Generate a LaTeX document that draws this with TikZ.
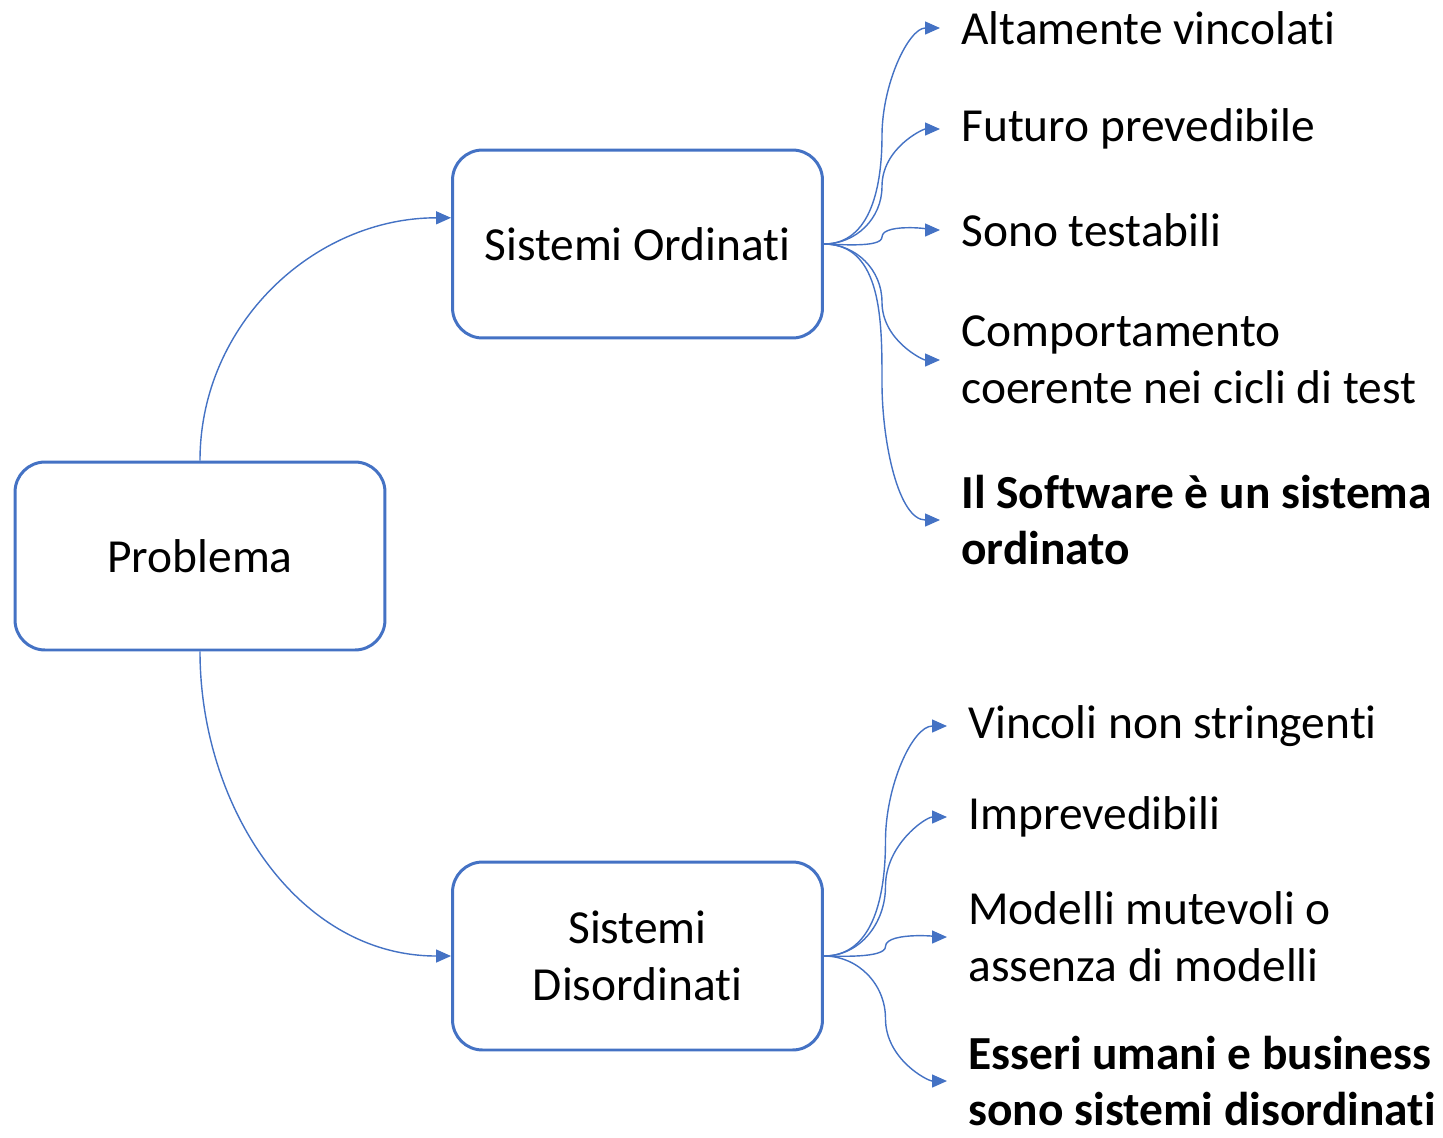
\documentclass[tikz,border=0pt]{standalone}
\usepackage{fontspec}
\setmainfont{Carlito}[Ligatures = {NoCommon, NoContextual, NoRare}, Contextuals = NoAlternate]
\usetikzlibrary{arrows.meta,calc}
\definecolor{officeblue}{HTML}{4472C4}

\begin{document}
\begin{tikzpicture}[ x = 0.02cm, y = -0.02cm, font = \fontsize{27}{32.4}\selectfont,
            sysbox/.style = { shape=rectangle, rounded corners = 0.6cm, draw = officeblue, line width = 1.7pt, minimum width = 7.4cm, minimum height = 3.76cm, align = center },
            itemtext/.style = { anchor = west, align = left, inner sep = 0pt },
            boldtext/.style = { font = \fontsize{27}{32.4}\selectfont\bfseries },
            fanline/.style = { draw = officeblue, line width = 0.8pt, shorten >= 0.42cm, -{Triangle[length = 0.3cm, width = 0.26cm]} } ]
            \useasboundingbox (0,0) rectangle (1443,1137);
            \node (nProblema) [ sysbox ] at (200,556) {Problema};
            \node (nOrdinati) [ sysbox ] at (637.5,244) {Sistemi Ordinati};
            \node (nDisordinati) [ sysbox ] at (637.5,956) {Sistemi\\Disordinati};
            \draw [ fanline, shorten >= 0pt ] (nProblema.north) to [ out = 90, in = 180 ] (nOrdinati.172);
            \draw [ fanline, shorten >= 0pt ] (nProblema.south) to [ out = -90, in = 180 ] (nDisordinati.west);
            \node (nAltamente) [ itemtext ] at (961,28) {Altamente vincolati};
            \node (nFuturo) [ itemtext ] at (961,129) {Futuro prevedibile};
            \node (nTestabili) [ itemtext ] at (961,230) {Sono testabili};
            \node (nComportamento) [ itemtext ] at (961,360) {Comportamento\\coerente nei cicli di test};
            \node (nSoftware) [ itemtext, boldtext ] at (961,520) {Il Software è un sistema\\ordinato};
            \draw [ fanline ] (nOrdinati.east) to [ out = 0, in = -90 ] ($(nOrdinati.east)!0.5!([xshift = -0.42cm]nAltamente.west)$) to [ out = 90, in = 180 ] (nAltamente.west);
            \draw [ fanline ] (nOrdinati.east) to [ out = 0, in = -90 ] ($(nOrdinati.east)!0.5!([xshift = -0.42cm]nFuturo.west)$) to [ out = 90, in = 180 ] (nFuturo.west);
            \draw [ fanline ] (nOrdinati.east) to [ out = 0, in = -90, looseness = 0.5 ] ($(nOrdinati.east)!0.5!([xshift = -0.42cm]nTestabili.west)$) to [ out = 90, in = 180, looseness = 0.5 ] (nTestabili.west);
            \draw [ fanline ] (nOrdinati.east) to [ out = 0, in = 90 ] ($(nOrdinati.east)!0.5!([xshift = -0.42cm]nComportamento.west)$) to [ out = -90, in = 180 ] (nComportamento.west);
            \draw [ fanline ] (nOrdinati.east) to [ out = 0, in = 90 ] ($(nOrdinati.east)!0.5!([xshift = -0.42cm]nSoftware.west)$) to [ out = -90, in = 180 ] (nSoftware.west);
            \node (nVincoli) [ itemtext ] at (968,726) {Vincoli non stringenti};
            \node (nImprevedibili) [ itemtext ] at (968,817) {Imprevedibili};
            \node (nModelli) [ itemtext ] at (968,937) {Modelli mutevoli o\\assenza di modelli};
            \node (nEsseri) [ itemtext, boldtext ] at (968,1081) {Esseri umani e business\\sono sistemi disordinati};
            \draw [ fanline ] (nDisordinati.east) to [ out = 0, in = -90 ] ($(nDisordinati.east)!0.5!([xshift = -0.42cm]nVincoli.west)$) to [ out = 90, in = 180 ] (nVincoli.west);
            \draw [ fanline ] (nDisordinati.east) to [ out = 0, in = -90 ] ($(nDisordinati.east)!0.5!([xshift = -0.42cm]nImprevedibili.west)$) to [ out = 90, in = 180 ] (nImprevedibili.west);
            \draw [ fanline ] (nDisordinati.east) to [ out = 0, in = -90, looseness = 0.5 ] ($(nDisordinati.east)!0.5!([xshift = -0.42cm]nModelli.west)$) to [ out = 90, in = 180, looseness = 0.5 ] (nModelli.west);
            \draw [ fanline ] (nDisordinati.east) to [ out = 0, in = 90 ] ($(nDisordinati.east)!0.5!([xshift = -0.42cm]nEsseri.west)$) to [ out = -90, in = 180 ] (nEsseri.west);
        \end{tikzpicture}
\end{document}
